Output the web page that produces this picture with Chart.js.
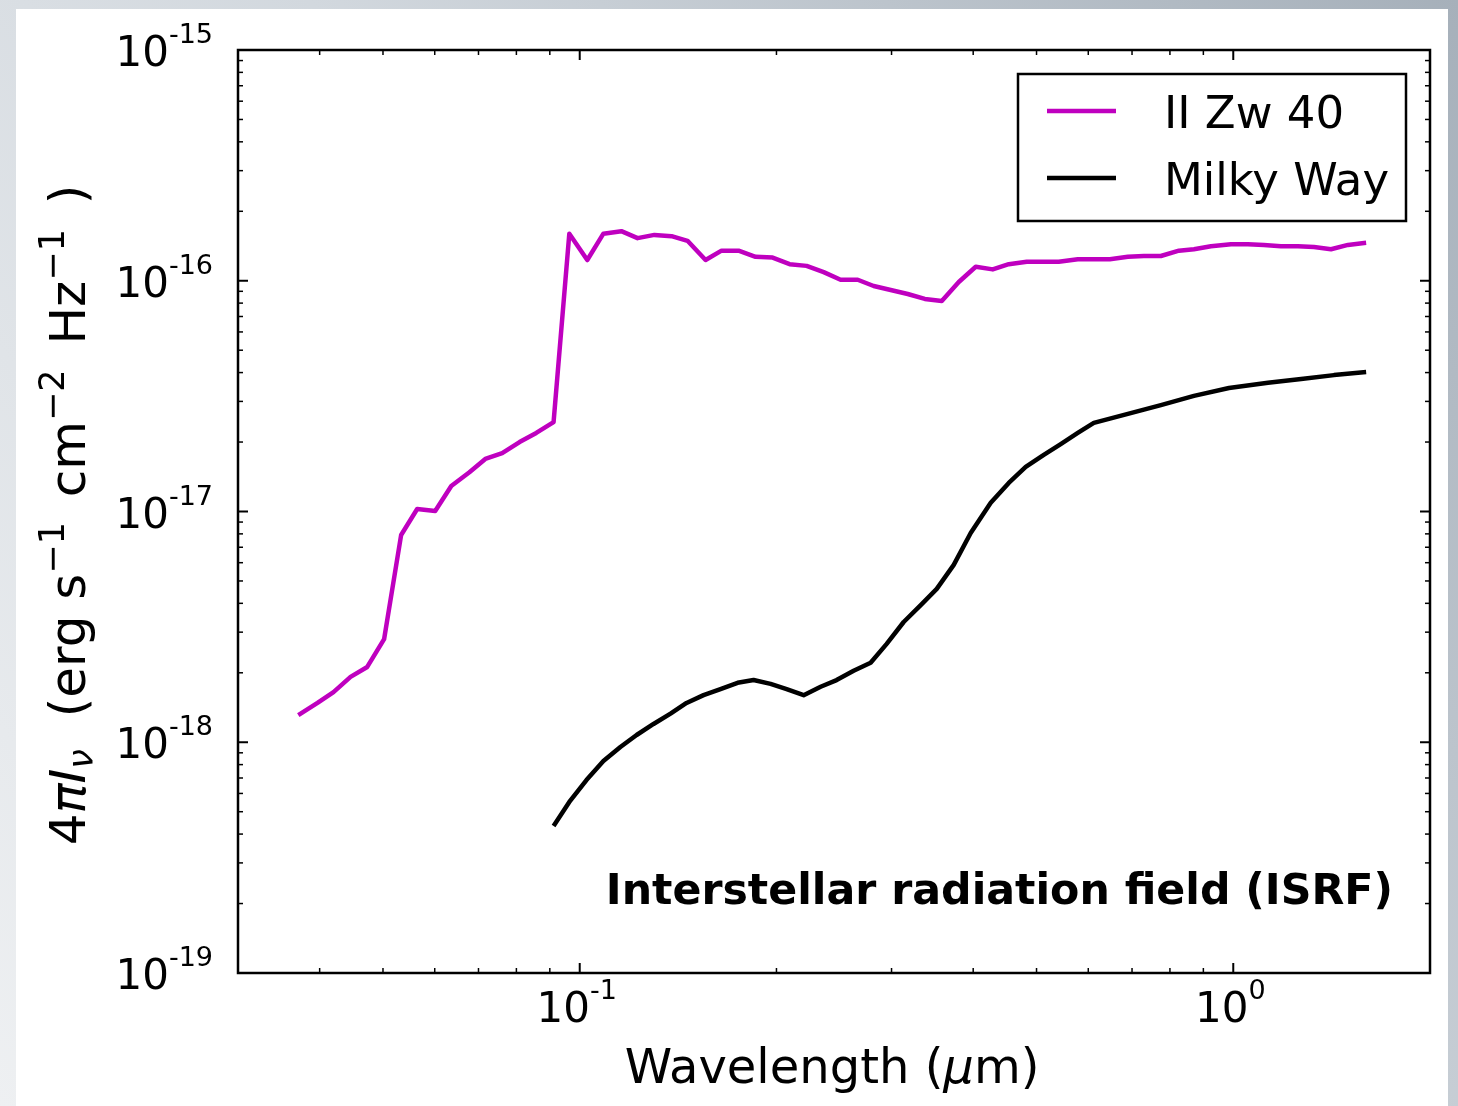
<!DOCTYPE html>
<html><head><meta charset="utf-8">
<script src="https://cdn.jsdelivr.net/npm/chart.js@4.4.1/dist/chart.umd.min.js"></script>
<style>html,body{margin:0;padding:0;background:#fff;overflow:hidden}canvas{display:block}</style>
</head><body>
<canvas id="c" width="1458" height="1106"></canvas>
<script>
// ---- data (wavelength in micron, 4*pi*I_nu in erg s^-1 cm^-2 Hz^-1) ----
const seriesNames = ['II Zw 40', 'Milky Way'];
const iizw40Wavelength = [0.0371,0.0397,0.0420,0.0446,0.0473,0.0502,0.0533,0.0564,0.0601,0.0636,0.0678,0.0717,0.0761,0.0809,0.0858,0.0912,0.0964,0.1027,0.1087,0.1158,0.1226,0.1301,0.1382,0.1462,0.1558,0.1648,0.1750,0.1858,0.1973,0.2095,0.2224,0.2362,0.2507,0.2663,0.2817,0.2991,0.3176,0.3373,0.3581,0.3802,0.4036,0.4285,0.4534,0.4831,0.5110,0.5407,0.5782,0.6118,0.6474,0.6898,0.7298,0.7749,0.8257,0.8706,0.9244,0.9920,1.053,1.114,1.183,1.256,1.329,1.411,1.498,1.597];
const iizw40Intensity = [1.31e-18,1.48e-18,1.65e-18,1.92e-18,2.12e-18,2.80e-18,7.91e-18,1.025e-17,1.005e-17,1.29e-17,1.48e-17,1.69e-17,1.79e-17,2.00e-17,2.19e-17,2.44e-17,1.60e-16,1.23e-16,1.60e-16,1.64e-16,1.53e-16,1.58e-16,1.56e-16,1.49e-16,1.23e-16,1.35e-16,1.35e-16,1.27e-16,1.26e-16,1.18e-16,1.16e-16,1.09e-16,1.01e-16,1.01e-16,9.49e-17,9.12e-17,8.76e-17,8.34e-17,8.17e-17,9.88e-17,1.15e-16,1.12e-16,1.18e-16,1.21e-16,1.21e-16,1.21e-16,1.24e-16,1.24e-16,1.24e-16,1.27e-16,1.28e-16,1.28e-16,1.35e-16,1.37e-16,1.41e-16,1.44e-16,1.44e-16,1.43e-16,1.41e-16,1.41e-16,1.40e-16,1.37e-16,1.43e-16,1.46e-16];
const milkyWayWavelength = [0.0912,0.0964,0.1024,0.1087,0.1154,0.1222,0.1297,0.1377,0.1457,0.1547,0.1642,0.1744,0.1845,0.1959,0.2073,0.2201,0.2337,0.2472,0.2625,0.2787,0.2949,0.3131,0.3325,0.3518,0.3735,0.3965,0.4255,0.4534,0.4813,0.5129,0.5445,0.5782,0.6118,0.6898,0.7749,0.8706,0.9849,1.130,1.270,1.426,1.597];
const milkyWayIntensity = [4.34e-19,5.51e-19,6.86e-19,8.29e-19,9.54e-19,1.075e-18,1.20e-18,1.33e-18,1.48e-18,1.60e-18,1.70e-18,1.81e-18,1.86e-18,1.79e-18,1.70e-18,1.60e-18,1.74e-18,1.86e-18,2.04e-18,2.21e-18,2.67e-18,3.32e-18,3.93e-18,4.62e-18,5.87e-18,8.07e-18,1.09e-17,1.33e-17,1.56e-17,1.76e-17,1.96e-17,2.19e-17,2.42e-17,2.65e-17,2.89e-17,3.17e-17,3.43e-17,3.61e-17,3.75e-17,3.90e-17,4.02e-17];
const xTickExponents = [-1, 0];
const yTickExponents = [-19, -18, -17, -16, -15];
const xRange = [0.03, 2.0];
const yRange = [1e-19, 1e-15];
const annotationText = 'Interstellar radiation field (ISRF)';

const MAGENTA = '#bf00bf';
const FONT = '"DejaVu Sans", "Liberation Sans", sans-serif';

function pairs(xs, ys) { return xs.map((x, i) => ({x: x, y: ys[i]})); }

function drawRuns(ctx, runs, x, y, align) {
  let total = 0;
  runs.forEach(r => { ctx.font = r.f; r.w = ctx.measureText(r.t).width + (r.pad || 0); total += r.w; });
  let cx = align === 'center' ? x - total / 2 : (align === 'right' ? x - total : x);
  ctx.textAlign = 'left';
  ctx.textBaseline = 'alphabetic';
  runs.forEach(r => { ctx.font = r.f; ctx.fillText(r.t, cx, y + (r.dy || 0)); cx += r.w; });
  return total;
}
function powRuns(e) {
  return [
    {t: '10', f: '42px ' + FONT},
    {t: String(e), f: '27px ' + FONT, dy: -23, pad: 0}
  ];
}

const decor = {
  id: 'decor',
  beforeDraw(chart) {
    const ctx = chart.ctx;
    const W = chart.width, H = chart.height;
    ctx.save();
    const g = ctx.createLinearGradient(W, 0, 0, H);
    g.addColorStop(0, '#a6b0ba');
    g.addColorStop(0.5, '#d2d8de');
    g.addColorStop(1, '#eef0f2');
    ctx.fillStyle = g;
    ctx.fillRect(0, 0, W, H);
    ctx.fillStyle = '#ffffff';
    ctx.fillRect(16, 9, 1432, H - 9);
    ctx.restore();
  },
  afterDatasetsDraw(chart) {
    const ctx = chart.ctx;
    const a = chart.chartArea;
    const xs = chart.scales.x, ys = chart.scales.y;
    ctx.save();
    ctx.strokeStyle = '#000';
    ctx.fillStyle = '#000';
    // ticks
    const tick = (x1, y1, x2, y2, w) => { ctx.lineWidth = w; ctx.beginPath(); ctx.moveTo(x1, y1); ctx.lineTo(x2, y2); ctx.stroke(); };
    for (let e = -2; e <= 0; e++) {
      for (let k = 1; k <= 9; k++) {
        const v = k * Math.pow(10, e);
        if (v < xRange[0] * 1.001 || v > xRange[1] * 0.999) continue;
        const px = xs.getPixelForValue(v);
        const major = k === 1;
        const L = major ? 10 : 5, w = major ? 2 : 1.5;
        tick(px, a.bottom, px, a.bottom - L, w);
        tick(px, a.top, px, a.top + L, w);
      }
    }
    for (let e = -19; e <= -15; e++) {
      for (let k = 1; k <= 9; k++) {
        const v = k * Math.pow(10, e);
        if (v < yRange[0] * 0.999 || v > yRange[1] * 1.001) continue;
        const py = ys.getPixelForValue(v);
        const major = k === 1;
        const L = major ? 10 : 5, w = major ? 2 : 1.5;
        tick(a.left, py, a.left + L, py, w);
        tick(a.right, py, a.right - L, py, w);
      }
    }
    // frame
    ctx.lineWidth = 2.5;
    ctx.strokeRect(a.left, a.top, a.right - a.left, a.bottom - a.top);
    // tick labels
    yTickExponents.forEach(e => {
      const py = ys.getPixelForValue(Math.pow(10, e));
      drawRuns(ctx, powRuns(e), 213, py + 16, 'right');
    });
    xTickExponents.forEach(e => {
      const px = xs.getPixelForValue(Math.pow(10, e));
      drawRuns(ctx, powRuns(e), px - 3, 1022, 'center');
    });
    // x title
    drawRuns(ctx, [
      {t: 'Wavelength (', f: '48px ' + FONT},
      {t: '\u03bc', f: 'italic 48px ' + FONT},
      {t: 'm)', f: '48px ' + FONT}
    ], 832, 1083, 'center');
    // y title (rotated)
    ctx.save();
    ctx.translate(85, 515);
    ctx.rotate(-Math.PI / 2);
    const F = 50, S = 35;
    drawRuns(ctx, [
      {t: '4', f: F + 'px ' + FONT},
      {t: '\u03c0', f: 'italic ' + F + 'px ' + FONT},
      {t: 'I', f: 'italic ' + F + 'px ' + FONT},
      {t: '\u03bd', f: 'italic ' + S + 'px ' + FONT, dy: 8},
      {t: '  (erg s', f: F + 'px ' + FONT},
      {t: '\u22121', f: S + 'px ' + FONT, dy: -21, pad: 9},
      {t: ' cm', f: F + 'px ' + FONT},
      {t: '\u22122', f: S + 'px ' + FONT, dy: -21, pad: 9},
      {t: ' Hz', f: F + 'px ' + FONT},
      {t: '\u22121', f: S + 'px ' + FONT, dy: -21, pad: 9},
      {t: ' )', f: F + 'px ' + FONT}
    ], 0, 0, 'center');
    ctx.restore();
    // annotation
    ctx.fillStyle = '#000';
    ctx.font = 'bold 42.7px ' + FONT;
    ctx.textAlign = 'right';
    ctx.fillText(annotationText, 1393, 904);
    // legend
    ctx.fillStyle = '#fff';
    ctx.fillRect(1018, 74, 388, 147);
    ctx.lineWidth = 2.5;
    ctx.strokeStyle = '#000';
    ctx.strokeRect(1018, 74, 388, 147);
    const ds = chart.data.datasets;
    [111, 178].forEach((ly, i) => {
      ctx.strokeStyle = ds[i].borderColor;
      ctx.lineWidth = 4.5;
      ctx.beginPath(); ctx.moveTo(1047, ly); ctx.lineTo(1116, ly); ctx.stroke();
      ctx.fillStyle = '#000';
      ctx.font = '45px ' + FONT;
      ctx.textAlign = 'left';
      ctx.fillText(ds[i].label, 1164, ly + 17);
    });
    ctx.restore();
  }
};

new Chart(document.getElementById('c'), {
  type: 'line',
  data: {
    datasets: [
      {label: seriesNames[0], data: pairs(iizw40Wavelength, iizw40Intensity), borderColor: MAGENTA, borderWidth: 4.5, pointRadius: 0, tension: 0, borderJoinStyle: 'round', fill: false},
      {label: seriesNames[1], data: pairs(milkyWayWavelength, milkyWayIntensity), borderColor: '#000000', borderWidth: 4.5, pointRadius: 0, tension: 0, borderJoinStyle: 'round', fill: false}
    ]
  },
  options: {
    responsive: false,
    animation: false,
    parsing: true,
    layout: {padding: {left: 238, top: 50, right: 28, bottom: 133}},
    plugins: {legend: {display: false}, tooltip: {enabled: false}},
    scales: {
      x: {type: 'logarithmic', min: xRange[0], max: xRange[1], display: false},
      y: {type: 'logarithmic', min: yRange[0], max: yRange[1], display: false}
    }
  },
  plugins: [decor]
});
</script>
</body></html>
